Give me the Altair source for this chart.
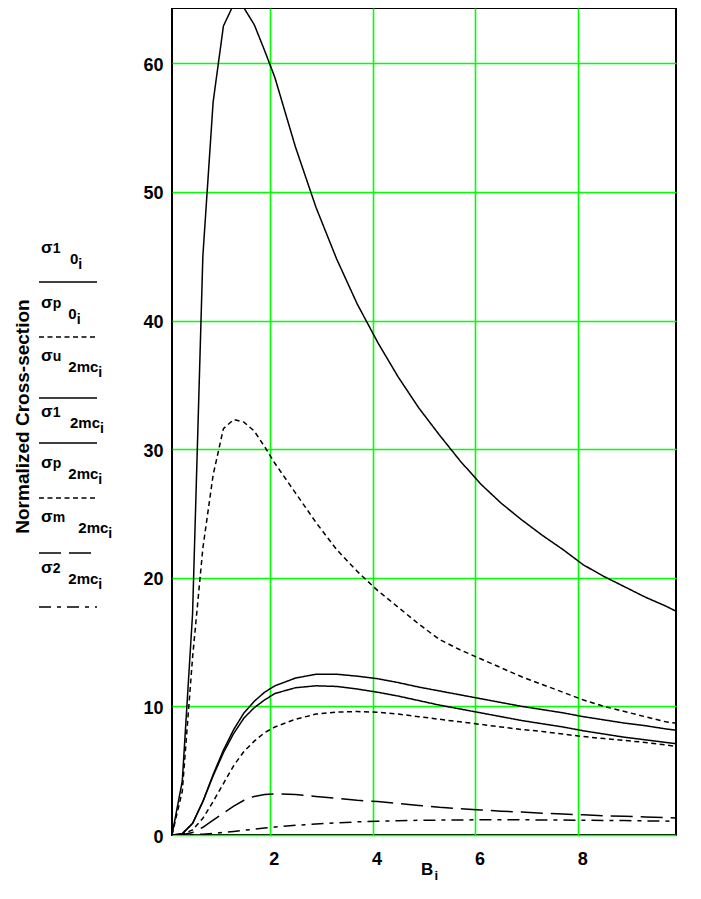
import altair as alt
import pandas as pd

# ---------------- data ----------------
B = [0.1, 0.3, 0.5, 0.7, 0.9, 1.1, 1.3, 1.5, 1.7, 1.9, 2.1, 2.5, 2.9, 3.3, 3.7,
     4.1, 4.5, 4.9, 5.3, 5.7, 6.1, 6.5, 6.9, 7.3, 7.7, 8.1, 8.5, 8.9, 9.3, 9.7, 9.9]

sig1_0 = [0, 4.2, 17.2, 45.0, 57.0, 62.9, 64.6, 64.3, 63.0, 61.0, 58.9, 53.5, 48.8, 44.8, 41.3,
          38.3, 35.6, 33.2, 31.1, 29.1, 27.3, 25.8, 24.5, 23.3, 22.2, 21.0, 20.1, 19.3, 18.5, 17.8, 17.4]
sigp_0 = [0, 3.4, 13.8, 22.3, 28.0, 31.6, 32.3, 32.1, 31.4, 30.2, 28.9, 26.6, 24.3, 22.2, 20.5,
          19.0, 17.7, 16.4, 15.2, 14.4, 13.7, 13.0, 12.3, 11.7, 11.1, 10.5, 10.0, 9.6, 9.2, 8.8, 8.7]
sigu_2mc = [0, 0.1, 0.9, 2.6, 4.7, 6.6, 8.2, 9.5, 10.4, 11.1, 11.6, 12.2, 12.5, 12.5, 12.35,
            12.15, 11.85, 11.5, 11.2, 10.9, 10.6, 10.3, 10.0, 9.75, 9.5, 9.2, 8.95, 8.7, 8.5, 8.25, 8.15]
sig1_2mc = [0, 0.1, 0.9, 2.6, 4.6, 6.4, 7.9, 9.1, 9.9, 10.5, 11.0, 11.45, 11.6, 11.55, 11.35,
            11.1, 10.8, 10.45, 10.1, 9.8, 9.5, 9.2, 8.9, 8.65, 8.4, 8.1, 7.85, 7.6, 7.4, 7.2, 7.1]
sigp_2mc = [0, 0.05, 0.4, 1.3, 2.6, 4.0, 5.4, 6.5, 7.3, 7.95, 8.4, 9.0, 9.4, 9.55, 9.6,
            9.55, 9.4, 9.2, 9.0, 8.8, 8.6, 8.4, 8.2, 8.05, 7.85, 7.65, 7.5, 7.35, 7.2, 7.0, 6.9]
sigm_2mc = [0, 0.02, 0.2, 0.6, 1.15, 1.7, 2.25, 2.7, 3.0, 3.15, 3.2, 3.15, 3.0, 2.85, 2.7,
            2.6, 2.45, 2.3, 2.15, 2.05, 1.95, 1.85, 1.78, 1.7, 1.63, 1.57, 1.5, 1.45, 1.4, 1.35, 1.33]
sig2_2mc = [0, 0, 0.02, 0.06, 0.12, 0.2, 0.28, 0.37, 0.45, 0.54, 0.62, 0.75, 0.86, 0.95, 1.02,
            1.07, 1.11, 1.14, 1.16, 1.17, 1.18, 1.18, 1.18, 1.17, 1.16, 1.15, 1.13, 1.12, 1.1, 1.08, 1.07]

SERIES = ["s1_0", "sp_0", "su_2mc", "s1_2mc", "sp_2mc", "sm_2mc", "s2_2mc"]
VALUES = [sig1_0, sigp_0, sigu_2mc, sig1_2mc, sigp_2mc, sigm_2mc, sig2_2mc]
SUP = ["1", "p", "u", "1", "p", "m", "2"]
SUB = ["0", "0", "2mc", "2mc", "2mc", "2mc", "2mc"]
Y_TICKS = [0, 10, 20, 30, 40, 50, 60]
X_TICKS = [2, 4, 6, 8]

# ---------------- styles / layout ----------------
DASHES = [[1, 0], [5, 3.5], [1, 0], [1, 0], [5, 3.5], [22, 8], [12, 6, 4, 6]]
FONT = "Liberation Sans"
W, H = 504, 827
LEG_LINE_Y = [274, 329, 390, 435, 490, 545, 599]
LEG_SIG_Y = [245.3, 300.3, 352.7, 408.7, 460.3, 513.7, 565.3]
LEG_SUB_X = [-102, -103.7, -103.7, -102, -103.7, -93.7, -103.7]
CHAR_W = {"0": 0.556, "2": 0.556, "m": 0.889, "c": 0.556}
SIG_FS, SUP_FS, SUB_FS, I_FS = 17, 14, 15, 14

rows = []
for name, vals in zip(SERIES, VALUES):
    for b, v in zip(B, vals):
        rows.append({"B": b, "v": v, "s": name})
df = pd.DataFrame(rows)

one = alt.Data(values=[{"k": 1}])

lines = alt.Chart(df).mark_line(color="black", strokeWidth=1.5, clip=True).encode(
    x=alt.X("B:Q",
            scale=alt.Scale(domain=[0.1, 9.9], nice=False, zero=False),
            axis=alt.Axis(values=X_TICKS, title="", grid=True, gridColor="#00ff00",
                          gridWidth=1.6, ticks=False, domain=False, labelPadding=15,
                          labelOffset=4, labelFlush=False, labelFont=FONT,
                          labelFontSize=18, labelFontWeight="bold", labelColor="black")),
    y=alt.Y("v:Q",
            scale=alt.Scale(domain=[0, 64.3], nice=False),
            axis=alt.Axis(values=Y_TICKS, title="", grid=True, gridColor="#00ff00",
                          gridWidth=1.6, ticks=False, domain=False, labelPadding=9,
                          labelOffset=2, labelFlush=False, labelFont=FONT,
                          labelFontSize=18, labelFontWeight="bold", labelColor="black")),
    strokeDash=alt.StrokeDash("s:N", scale=alt.Scale(domain=SERIES, range=DASHES), legend=None),
    detail="s:N",
)

layers = [lines]

def txt(t, x, y, size, **kw):
    return alt.Chart(one).mark_text(font=FONT, fontWeight="bold", fontSize=size,
                                    color="black", align=kw.pop("align", "left"),
                                    baseline=kw.pop("baseline", "alphabetic"), **kw).encode(
        x=alt.value(x), y=alt.value(y), text=alt.value(t))

for i in range(len(SERIES)):
    layers.append(alt.Chart(one).mark_rule(color="black", strokeWidth=1.5,
                                           strokeDash=DASHES[i]).encode(
        x=alt.value(-133), x2=alt.value(-75), y=alt.value(LEG_LINE_Y[i])))
    sy = LEG_SIG_Y[i]
    layers.append(txt("σ", -131, sy, SIG_FS))
    layers.append(txt(SUP[i], -119.3, sy, SUP_FS))
    layers.append(txt(SUB[i], LEG_SUB_X[i], sy + 11, SUB_FS))
    wsub = sum(CHAR_W[c] for c in SUB[i]) * SUB_FS
    layers.append(txt("i", LEG_SUB_X[i] + wsub, sy + 16, I_FS))

# axis titles
layers.append(txt("Normalized Cross-section", -149.2, 408.5, 19, align="center",
                  baseline="middle", angle=270))
layers.append(txt("B", 249, 867, 17))
layers.append(txt("i", 262.4, 872, 13))

chart = alt.layer(*layers).properties(
    width=W, height=H,
    autosize=alt.AutoSizeParams(type="none"),
    padding={"left": 164, "top": 0, "right": 17, "bottom": 50},
).configure_view(stroke="black", strokeWidth=2)

chart.save("out.html", embed_options={"renderer": "svg", "actions": False})
